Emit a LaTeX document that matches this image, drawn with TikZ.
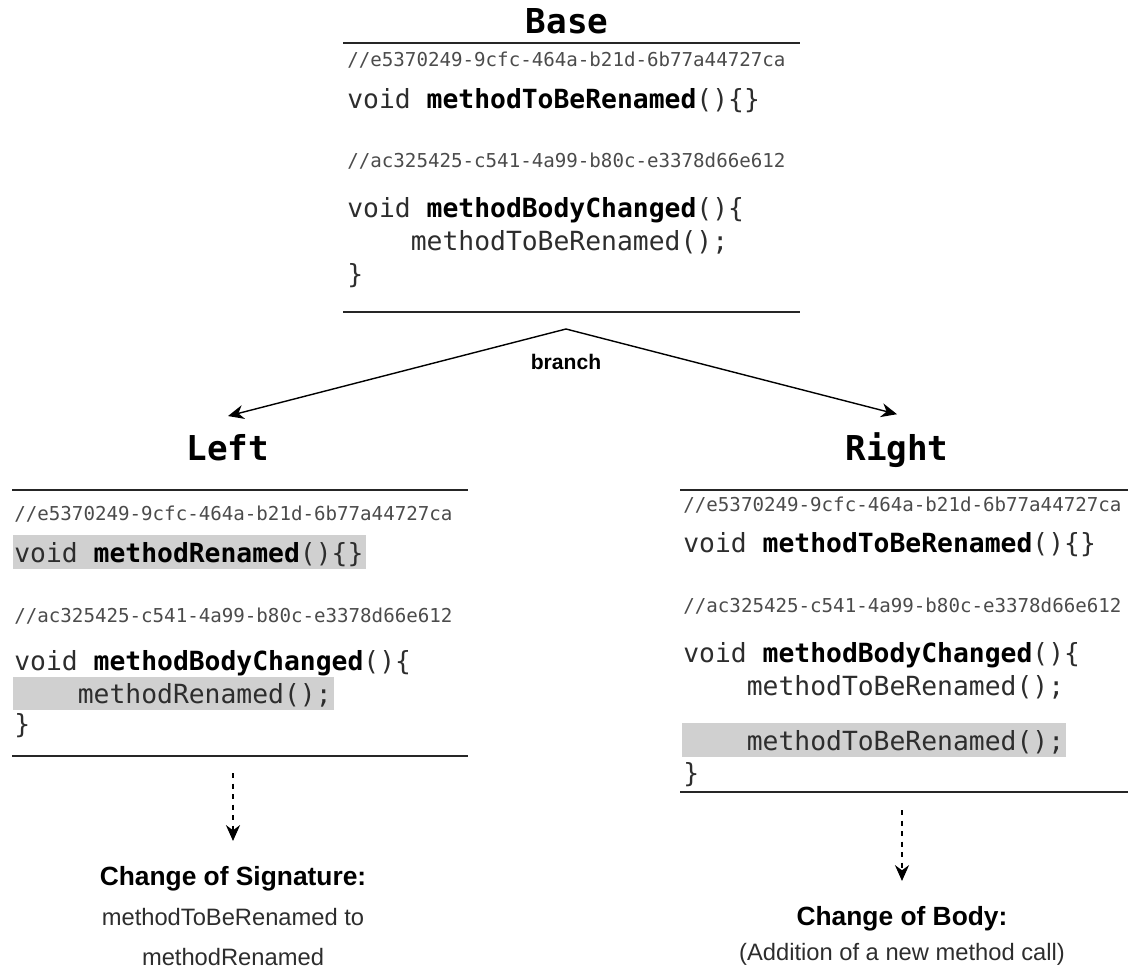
\documentclass[tikz,border=0pt]{standalone}
\usepackage{fontspec}
\setmainfont{Liberation Sans}
\setmonofont{DejaVu Sans Mono}
\usetikzlibrary{arrows.meta}
\definecolor{hlgray}{RGB}{208,208,208}
\definecolor{codegray}{RGB}{45,45,45}
\definecolor{cmtgray}{RGB}{75,75,75}
\def\ind{\phantom{xxxx}}
\def\kw#1{\textcolor{black}{\textbf{#1}}}

\begin{document}
\begin{tikzpicture}[x=0.02cm,y=-0.02cm,>={Stealth[length=9pt,width=8pt]}]
            \tikzstyle{title}=[inner xsep=0pt,inner ysep=10pt,anchor=base,font=\ttfamily\bfseries\fontsize{19.5}{22}\selectfont]
            \tikzstyle{cmt}=[inner sep=0pt,anchor=base west,text=cmtgray,font=\ttfamily\fontsize{10.9}{13}\selectfont]
            \tikzstyle{code}=[inner sep=0pt,anchor=base west,text=codegray,font=\ttfamily\fontsize{15}{18}\selectfont]
            \tikzstyle{rule}=[line width=1.2pt,black!85]
            \tikzstyle{hl}=[fill=hlgray]
            \tikzstyle{head}=[inner xsep=0pt,inner ysep=14pt,anchor=base,font=\bfseries\fontsize{15}{18}\selectfont]
            \tikzstyle{desc}=[inner sep=0pt,anchor=base,text=codegray,font=\fontsize{13.5}{16}\selectfont]
            \useasboundingbox (0,0) rectangle (1130,970);

            % Base version
            \node[title] (BASE) at (567,33) {Base};
            \draw[rule] (343,43) -- (800,43);
            \node[cmt]  (B-c1) at (347,66)  {//e5370249-9cfc-464a-b21d-6b77a44727ca};
            \node[code] (B-m1) at (347,108) {void \kw{methodToBeRenamed}()\{\}};
            \node[cmt]  (B-c2) at (347,167) {//ac325425-c541-4a99-b80c-e3378d66e612};
            \node[code] (B-m2) at (347,217) {void \kw{methodBodyChanged}()\{};
            \node[code] (B-m3) at (347,250) {\ind methodToBeRenamed();};
            \node[code] (B-m4) at (347,283) {\}};
            \draw[rule] (343,312) -- (800,312);

            % the two branches
            \coordinate (FORK) at (566,329);
            \node[font=\bfseries\fontsize{12}{14}\selectfont,inner sep=0pt,anchor=base] (BRANCH) at (566,369) {branch};
            \node[title] (LEFT) at (228,460) {Left};
            \node[title] (RIGHT) at (897,460) {Right};
            \draw[->,line width=0.8pt] (FORK) -- (LEFT.north);
            \draw[->,line width=0.8pt] (FORK) -- (RIGHT.north);

            % Left version
            \fill[hl] (13,535) rectangle (366,569);
            \fill[hl] (13,677) rectangle (334,710);
            \draw[rule] (12,490) -- (468,490);
            \node[cmt]  (L-c1) at (14,520) {//e5370249-9cfc-464a-b21d-6b77a44727ca};
            \node[code] (L-m1) at (14,562) {void \kw{methodRenamed}()\{\}};
            \node[cmt]  (L-c2) at (14,622) {//ac325425-c541-4a99-b80c-e3378d66e612};
            \node[code] (L-m2) at (14,670) {void \kw{methodBodyChanged}()\{};
            \node[code] (L-m3) at (14,703) {\ind methodRenamed();};
            \node[code] (L-m4) at (14,733) {\}};
            \draw[rule] (12,756) -- (468,756);

            % Right version
            \fill[hl] (682,723) rectangle (1066,757);
            \draw[rule] (680,490) -- (1128,490);
            \node[cmt]  (R-c1) at (683,511) {//e5370249-9cfc-464a-b21d-6b77a44727ca};
            \node[code] (R-m1) at (683,552) {void \kw{methodToBeRenamed}()\{\}};
            \node[cmt]  (R-c2) at (683,612) {//ac325425-c541-4a99-b80c-e3378d66e612};
            \node[code] (R-m2) at (683,662) {void \kw{methodBodyChanged}()\{};
            \node[code] (R-m3) at (683,695) {\ind methodToBeRenamed();};
            \node[code] (R-m4) at (683,750) {\ind methodToBeRenamed();};
            \node[code] (R-m5) at (683,782) {\}};
            \draw[rule] (680,792) -- (1128,792);

            % Annotate the changes
            \coordinate (L-out) at (233,773);
            \node[head] (SIG) at (233,885) {Change of Signature:};
            \node[desc] (SIG-1) at (233,925) {methodToBeRenamed to};
            \node[desc] (SIG-2) at (233,965) {methodRenamed};
            \draw[->,dashed,line width=0.8pt] (L-out) -- (SIG.north);

            \coordinate (R-out) at (902,810);
            \node[head] (BODY) at (902,925) {Change of Body:};
            \node[desc] (BODY-1) at (902,960) {(Addition of a new method call)};
            \draw[->,dashed,line width=0.8pt] (R-out) -- (BODY.north);
\end{tikzpicture}
\end{document}
